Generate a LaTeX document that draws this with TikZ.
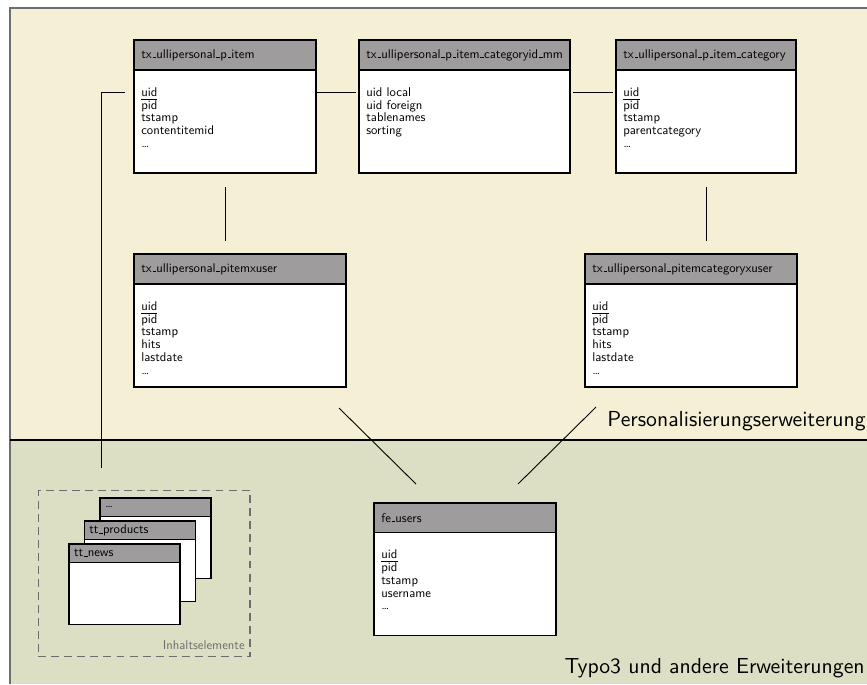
\documentclass[tikz,border=0pt]{standalone}
\usepackage{fontspec}
\setsansfont{lmsans10-regular}[Extension=.otf]
\usetikzlibrary{calc}

\definecolor{upperbg}{HTML}{F5F0D5}
\definecolor{lowerbg}{HTML}{DDDFC5}
\definecolor{hdrgray}{HTML}{9E9C9D}
\definecolor{framegray}{HTML}{6E6E6E}

% short underscore sitting on the baseline
\newcommand\us{\leavevmode\kern.06em\vbox{\hrule width.3em}}

\tikzset{
  hdrbox/.style={draw=black, line width=0.65pt, fill=hdrgray, inner sep=0pt, outer sep=0pt},
  bodybox/.style={draw=black, line width=0.65pt, fill=white, inner sep=0pt, outer sep=0pt},
  hdrtext/.style={font=\sffamily\scriptsize, inner sep=0pt},
  fieldtext/.style={font={\sffamily\scriptsize\setlength{\baselineskip}{7.1pt}}, align=left, inner sep=0pt},
  conn/.style={draw=black, line width=0.5pt},
  dashbox/.style={draw=framegray, line width=0.7pt, dash pattern=on 4.4pt off 2.8pt, inner sep=0pt},
  grouplabel/.style={font=\sffamily\scriptsize, text=framegray, inner sep=0pt},
  layerlabel/.style={font=\sffamily\large, inner sep=0pt},
}

% #1 name, #2 x, #3 y, #4 width, #5 header height, #6 body height,
% #7 title, #8 fields, #9 text indent
\newcommand\dbtab[9]{%
  \node[hdrbox, minimum width=#4, minimum height=#5, anchor=north west] (#1-h) at (#2,#3) {};
  \node[bodybox, minimum width=#4, minimum height=#6, anchor=north west] (#1) at (#1-h.south west) {};
  \node[hdrtext, anchor=west] (#1-t) at ([xshift=#9]#1-h.west) {#7};
  \node[fieldtext, anchor=north west] (#1-f) at ([xshift=#9,yshift=-9.4pt]#1.north west) {#8};
}

\begin{document}
\begin{tikzpicture}[x=0.5525pt, y=-0.5525pt, font=\sffamily]
  \fill[white] (0,0) rectangle (867,684);
  \useasboundingbox (0,0) rectangle (867,684);

  % layers
  \fill[upperbg] (10,8) rectangle (867,440);
  \fill[lowerbg] (10,440) rectangle (867,684);
  \draw[framegray, line width=1.2pt] (10,684) -- (10,8) -- (867,8);
  \draw[black, line width=0.6pt] (10,440) -- (867,440);

  \node[layerlabel, anchor=base east] (layer-p) at (866,426) {Personalisierungserweiterung};
  \node[layerlabel, anchor=base east] (layer-t) at (865,673) {Typo3 und andere Erweiterungen};

  % tables of the extension
  \dbtab{item}{134}{40}{100.56pt}{16.6pt}{56.9pt}{tx\us ullipersonal\us p\us item}%
    {\underline{uid}\\pid\\tstamp\\contentitemid\\\ldots}{3.87pt}
  \dbtab{catmm}{359}{40}{116.58pt}{16.6pt}{56.9pt}{tx\us ullipersonal\us p\us item\us categoryid\us mm}%
    {uid local\\uid foreign\\tablenames\\sorting}{3.87pt}
  \dbtab{cat}{616}{40}{99.45pt}{16.6pt}{56.9pt}{tx\us ullipersonal\us p\us item\us category}%
    {\underline{uid}\\pid\\tstamp\\parentcategory\\\ldots}{3.87pt}
  \dbtab{itemuser}{134}{254}{117.13pt}{16.6pt}{56.9pt}{tx\us ullipersonal\us pitemxuser}%
    {\underline{uid}\\pid\\tstamp\\hits\\lastdate\\\ldots}{3.87pt}
  \dbtab{catuser}{585}{254}{117.13pt}{16.6pt}{56.9pt}{tx\us ullipersonal\us pitemcategoryxuser}%
    {\underline{uid}\\pid\\tstamp\\hits\\lastdate\\\ldots}{3.87pt}

  % core tables
  \dbtab{feusers}{374}{503}{100.56pt}{16.2pt}{56.9pt}{fe\us users}%
    {\underline{uid}\\pid\\tstamp\\username\\\ldots}{3.87pt}

  % content elements
  \node[dashbox, minimum width=116.9pt, minimum height=91.7pt, anchor=north west] (content) at (37.7,490) {};
  \node[grouplabel, anchor=base east] (content-l) at (245,649) {Inhaltselemente};
  \dbtab{more}{100}{498}{61.3pt}{10.2pt}{34.3pt}{\ldots}{}{2.6pt}
  \dbtab{products}{84.3}{521}{61.3pt}{10.2pt}{34.3pt}{tt\us products}{}{2.6pt}
  \dbtab{news}{69}{544}{61.3pt}{10.2pt}{34.3pt}{tt\us news}{}{2.6pt}

  % relations
  \coordinate (contentlink) at (101,468);
  \draw[conn] ($(item.north west)+(-9,22)$) -| (contentlink);
  \draw[conn] ($(item.north east)+(0,22)$) -- ($(catmm.north west)+(-3,22)$);
  \draw[conn] ($(catmm.north east)+(3,22)$) -- ($(cat.north west)+(-3,22)$);
  \draw[conn] ($(item.south)+(0,14)$) -- ($(item.south |- itemuser-h.north)+(0,-13)$);
  \draw[conn] ($(cat.south)+(0,14)$) -- ($(cat.south |- catuser-h.north)+(0,-13)$);
  \draw[conn] ($(itemuser.south east)+(-7,21)$) -- ($(feusers-h.north west)+(42,-19)$);
  \draw[conn] ($(catuser.south west)+(11,20)$) -- ($(feusers-h.north east)+(-38,-19)$);
\end{tikzpicture}
\end{document}
